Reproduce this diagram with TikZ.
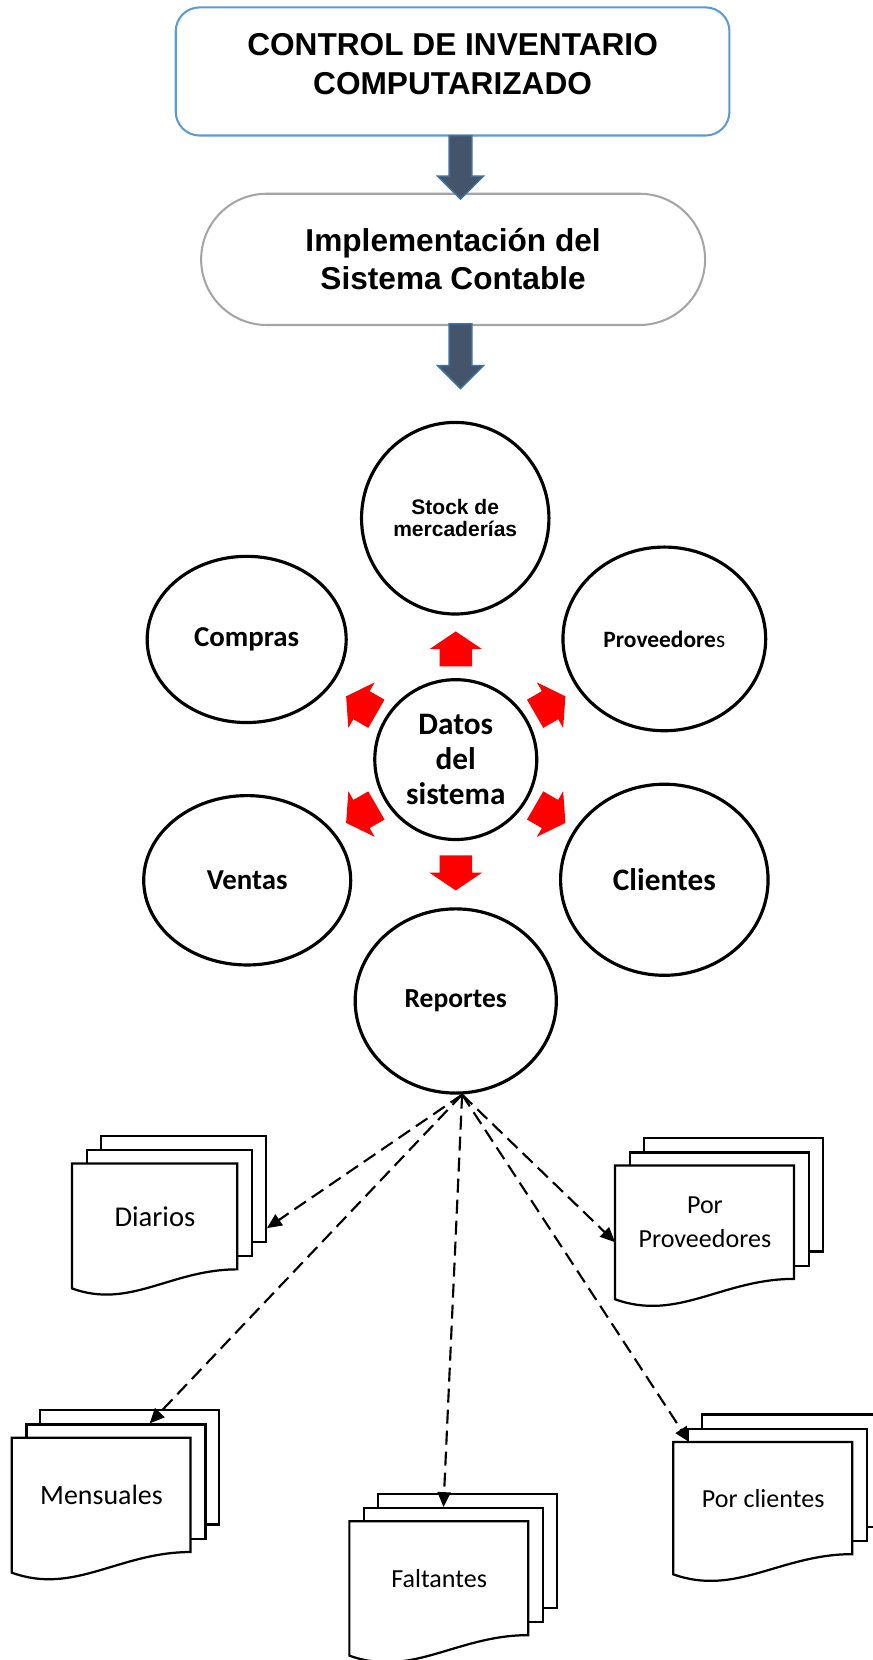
\documentclass[tikz,border=0pt]{standalone}
\usepackage{fontspec}
\setmainfont{Carlito}
\newfontfamily\arial{Liberation Sans}
\usetikzlibrary{shapes.geometric,shapes.arrows,arrows.meta,calc}

\definecolor{bordetitulo}{RGB}{91,155,213}
\definecolor{bordegris}{RGB}{165,165,165}
\definecolor{azulflecha}{RGB}{68,84,106}
\definecolor{bordeflecha}{RGB}{65,113,156}

% pila de tres hojas: nombre, x, y (esquina sup. izq.), ancho, alto, texto
\newcommand{\hojas}[6]{%
  \begin{scope}[shift={(#2,#3)}]
    \node[hoja,anchor=north west,inner sep=0pt,minimum width=#4cm,minimum height=#5cm] (#1-2) at (0.52,0.54) {};
    \node[hoja,anchor=north west,inner sep=0pt,minimum width=#4cm,minimum height=#5cm] (#1-1) at (0.26,0.27) {};
    \draw[hoja] (0,-1.18*#5) -- (0,0) -- (#4,0) -- (#4,-#5)
      .. controls (0.6*#4,-#5) and (0.35*#4,-1.38*#5) .. (0,-1.18*#5) -- cycle;
    \node[hojatexto,minimum width=#4cm,minimum height=#5cm] (#1) at (0,0) {#6};
  \end{scope}}

\begin{document}
\begin{tikzpicture}[
    titulo/.style={rectangle,draw=bordetitulo,line width=1.1pt,rounded corners=0.45cm,
      minimum width=10.46cm,minimum height=2.42cm,inner sep=0pt,
      font=\arial\bfseries\fontsize{17}{21}\selectfont},
    sistema/.style={rectangle,draw=bordegris,line width=1.1pt,rounded corners=1.24cm,
      minimum width=9.52cm,minimum height=2.48cm,inner sep=0pt,align=center,
      font=\arial\bfseries\fontsize{17}{20.5}\selectfont},
    flechaazul/.style={single arrow,draw=bordeflecha,fill=azulflecha,line width=0.8pt,
      inner sep=0pt,text height=0.2cm,text depth=0.2cm,single arrow head extend=0.22cm,
      single arrow tip angle=90,minimum height=1.2cm,anchor=tip,rotate=-90},
    flecharoja/.style={single arrow,fill=red,inner sep=0pt,text height=0.3cm,
      text depth=0.3cm,single arrow head extend=0.19cm,single arrow tip angle=112,
      minimum height=0.66cm,anchor=tip},
    circulo/.style={ellipse,draw,line width=1.7pt,inner sep=0pt,align=center,
      font=\bfseries\fontsize{15.5}{18}\selectfont},
    hoja/.style={draw,line width=1.2pt,fill=white},
    hojatexto/.style={anchor=north west,inner sep=0pt,align=center,
      font=\fontsize{14}{18.2}\selectfont},
    conector/.style={dash pattern=on 7.5pt off 3.8pt,line width=1.15pt,
      -{Triangle[length=8pt,width=7pt]}}
  ]
  \useasboundingbox (0,0) rectangle (16.48,-31.36);

  \node[titulo] (titulo) at (8.55,-1.35)
    {\begin{tabular}{@{}c@{}}CONTROL DE INVENTARIO\\COMPUTARIZADO\\[5pt]\end{tabular}};
  \node[sistema] (sistema) at (8.56,-4.9) {Implementación del\\Sistema Contable};

  \node[flechaazul,minimum height=1.2cm] (f1) at (8.7,-3.78) {};
  \node[flechaazul,minimum height=1.22cm] (f2) at (8.7,-7.36) {};

  \node[circulo,minimum width=3.54cm,minimum height=3.62cm,
    font=\arial\bfseries\fontsize{11.3}{11.6}\selectfont] (stock) at (8.6,-9.79) {Stock de\\mercaderías};
  \node[circulo,minimum width=3.76cm,minimum height=3.14cm] (compras) at (4.66,-12.08) {Compras};
  \node[circulo,minimum width=3.83cm,minimum height=3.47cm,
    font=\bfseries\fontsize{12.6}{15}\selectfont] (proveedores) at (12.55,-12.07) {Proveedore{\mdseries s}};
  \node[circulo,minimum width=3.06cm,minimum height=3.02cm,
    font=\bfseries\fontsize{16.8}{18.8}\selectfont] (datos) at (8.61,-14.35) {Datos\\del\\sistema};
  \node[circulo,minimum width=3.91cm,minimum height=3.2cm] (ventas) at (4.67,-16.63) {Ventas};
  \node[circulo,minimum width=3.92cm,minimum height=3.61cm,
    font=\bfseries\fontsize{16.8}{18}\selectfont] (clientes) at (12.55,-16.62) {Clientes};
  \node[circulo,minimum width=3.8cm,minimum height=3.48cm,
    font=\bfseries\fontsize{14.8}{18}\selectfont] (reportes) at (8.61,-18.91) {Reportes};

  \node[flecharoja,rotate=90] (r1) at ($(datos)+(90:2.43)$) {};
  \node[flecharoja,rotate=150] (r2) at ($(datos)+(150:2.4)$) {};
  \node[flecharoja,rotate=30] (r3) at ($(datos)+(30:2.4)$) {};
  \node[flecharoja,rotate=210] (r4) at ($(datos)+(210:2.4)$) {};
  \node[flecharoja,rotate=330] (r5) at ($(datos)+(330:2.4)$) {};
  \node[flecharoja,rotate=270] (r6) at ($(datos)+(270:2.48)$) {};

  \hojas{diarios}{1.36}{-21.98}{3.12}{2.0}{\fontsize{15.4}{18}\selectfont Diarios}
  \hojas{porprov}{11.62}{-22.02}{3.38}{2.14}{Por\\Proveedores}
  \hojas{mensuales}{0.22}{-27.16}{3.38}{2.16}{\fontsize{15}{18}\selectfont Mensuales}
  \hojas{faltantes}{6.6}{-28.74}{3.38}{2.15}{Faltantes}
  \hojas{porclientes}{12.72}{-27.24}{3.38}{2.12}{Por clientes}

  \coordinate (salida) at ([xshift=0.12cm]reportes.south);
  \draw[conector] (salida) -- ([yshift=0.28cm]diarios-2.south east);
  \draw[conector] (salida) -- (mensuales-1.60);
  \draw[conector] (salida) -- (faltantes-1.100);
  \draw[conector] (salida) -- ([yshift=-0.37cm]porprov.west);
  \draw[conector] (salida) -- ([xshift=0.3cm]porclientes.north west);
\end{tikzpicture}
\end{document}
